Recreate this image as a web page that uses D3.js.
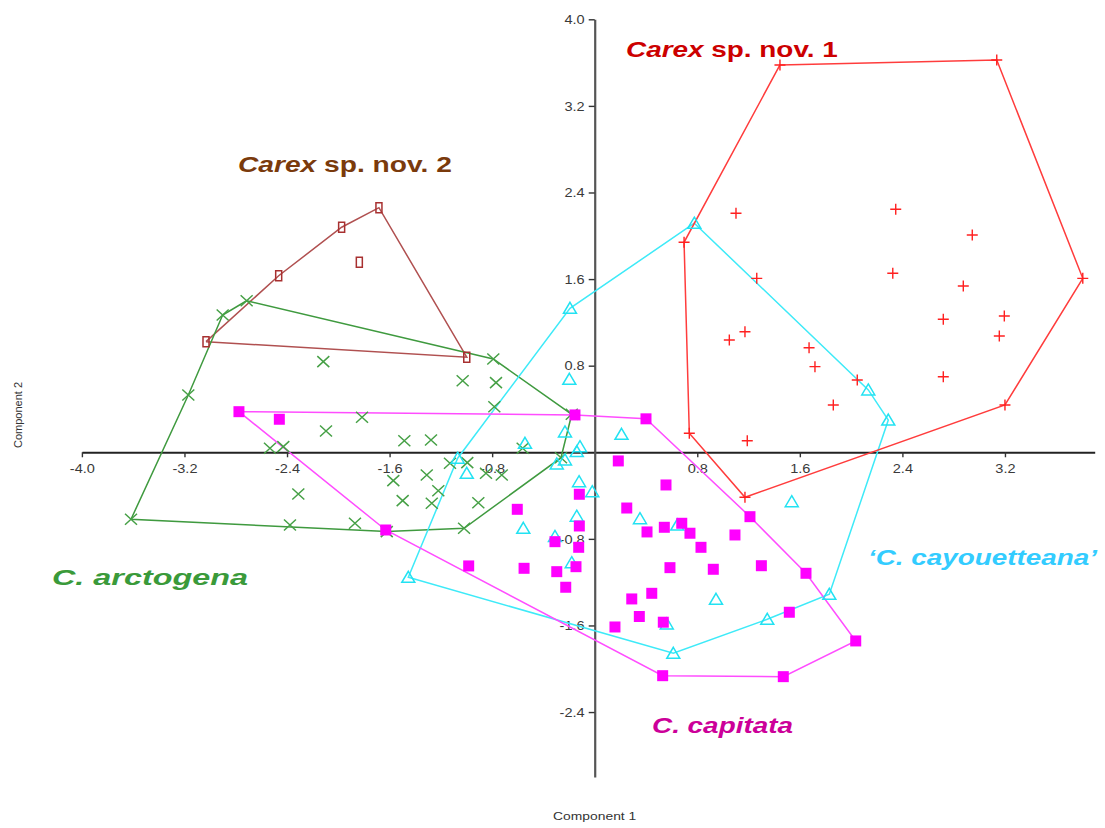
<!DOCTYPE html>
<html>
<head>
<meta charset="utf-8">
<script src="https://cdn.jsdelivr.net/npm/d3@7"></script>
<style>
  html, body { margin: 0; padding: 0; background: #fff; }
  svg { display: block; }
  text { font-family: Arial, "Liberation Sans", sans-serif; }
</style>
</head>
<body>
<svg id="chart" width="1105" height="828"></svg>
<script>
// Axis ticks
const xTicks = [-4.0, -3.2, -2.4, -1.6, -0.8, 0.8, 1.6, 2.4, 3.2];
const yTicks = [4.0, 3.2, 2.4, 1.6, 0.8, -0.8, -1.6, -2.4];

// Carex sp. nov. 1 — hull vertices (in order) and remaining scores
const nov1Hull = [[1.445,3.578],[3.136,3.624],[3.807,1.607],[3.200,0.437],[1.172,-0.416],[0.738,0.176],[0.697,1.940]];
const nov1Inner = [[1.102,2.208],[2.348,2.245],[2.945,2.007],[1.264,1.607],[2.325,1.654],[2.875,1.536],
  [2.719,1.229],[3.195,1.259],[3.156,1.074],[1.050,1.037],[1.172,1.114],[1.672,0.966],[1.718,0.791],
  [2.048,0.668],[2.719,0.698],[1.861,0.437],[1.190,0.107]];

// Carex sp. nov. 2
const nov2Hull = [[-3.032,1.022],[-2.465,1.631],[-1.974,2.079],[-1.683,2.260],[-0.998,0.878]];
const nov2Inner = [[-1.836,1.755]];

// C. arctogena
const arctHull = [[-2.715,1.400],[-0.791,0.862],[-0.179,0.351],[-0.263,-0.050],[-1.019,-0.702],
  [-1.622,-0.733],[-3.617,-0.619],[-3.170,0.529],[-2.902,1.268]];
const arctInner = [[-2.117,0.837],[-1.030,0.661],[-0.770,0.643],[-0.783,0.421],[-1.485,0.107],[-1.277,0.114],
  [-0.562,0.037],[-1.815,0.323],[-2.096,0.197],[-2.533,0.037],[-2.429,0.052],[-2.312,-0.385],[-2.377,-0.672],
  [-1.870,-0.656],[-1.129,-0.102],[-0.994,-0.096],[-0.848,-0.194],[-0.725,-0.210],[-1.310,-0.210],
  [-1.571,-0.262],[-1.220,-0.355],[-1.271,-0.471],[-1.498,-0.447],[-0.908,-0.466]];

// 'C. cayouetteana'
const cayHull = [[0.777,2.116],[2.134,0.576],[2.290,0.298],[1.830,-1.312],[1.346,-1.543],[0.613,-1.857],
  [-1.454,-1.155],[-1.069,-0.055],[-0.193,1.330]];
const cayInner = [[-0.198,0.674],[-0.232,0.188],[-0.115,0.052],[-0.544,0.083],[-0.140,0.006],[0.209,0.166],
  [-0.998,-0.194],[-0.296,-0.108],[-0.232,-0.071],[-0.122,-0.272],[-0.019,-0.364],[-0.140,-0.591],
  [-0.557,-0.702],[-0.310,-0.778],[-0.179,-1.020],[0.353,-0.614],[0.644,-0.672],[1.537,-0.456],
  [0.946,-1.358],[0.562,-1.586]];

// C. capitata
const capHull = [[-2.775,0.375],[-0.154,0.345],[0.400,0.309],[1.211,-0.595],[1.648,-1.118],[2.036,-1.743],
  [1.471,-2.073],[0.530,-2.064],[-1.630,-0.718]];
const capInner = [[-2.460,0.305],[-0.604,-0.527],[-0.983,-1.050],[-0.551,-1.072],[-0.296,-1.103],[-0.226,-1.247],
  [-0.310,-0.826],[-0.120,-0.388],[-0.120,-0.681],[-0.125,-0.878],[-0.146,-1.057],[0.158,-1.614],[0.184,-0.080],
  [0.250,-0.515],[0.408,-0.736],[0.289,-1.355],[0.445,-1.303],[0.348,-1.517],[0.556,-0.302],[0.543,-0.693],
  [0.679,-0.656],[0.743,-0.748],[0.829,-0.878],[1.094,-0.764],[0.587,-1.066],[0.925,-1.081],[1.300,-1.048],
  [0.535,-1.570],[1.518,-1.478]];

const svg = d3.select("#chart");
const x = d3.scaleLinear().domain([-4, 3.9]).range([81.9, 1094.7]);
const y = d3.scaleLinear().domain([4, -3]).range([19.3, 777]);

// Axes crossing at the origin
const fmt = d => d.toFixed(1);
const gx = svg.append("g").attr("transform", `translate(0,${y(0)})`)
  .call(d3.axisBottom(x).tickValues(xTicks).tickFormat(fmt).tickSize(5).tickSizeOuter(0).tickPadding(7));
const gy = svg.append("g").attr("transform", `translate(${x(0)},0)`)
  .call(d3.axisLeft(y).tickValues(yTicks).tickFormat(fmt).tickSize(6).tickSizeOuter(0).tickPadding(3));
gx.select(".domain").attr("stroke", "#222").attr("stroke-width", 1.8);
gy.select(".domain").attr("stroke", "#555").attr("stroke-width", 2.2);
[gx, gy].forEach(g => {
  g.selectAll(".tick line").attr("stroke", "#333").attr("stroke-width", 1.4);
  g.selectAll(".tick text").attr("fill", "#3a3a3a").style("font-size", "13px")
    .attr("transform", "scale(1.12,1)");
});

// Axis titles
svg.append("text").attr("x", x(0) / 1.26).attr("y", 820).attr("text-anchor", "middle")
  .attr("fill", "#333").style("font-size", "11px").attr("transform", "scale(1.26,1)")
  .text("Component 1");
svg.append("text").attr("transform", "translate(22,415) rotate(-90)").attr("text-anchor", "middle")
  .attr("fill", "#333").style("font-size", "11px").text("Component 2");

const line = d3.line().x(d => x(d[0])).y(d => y(d[1]));

const groups = [
  { hull: nov2Hull, inner: nov2Inner, line: "#b05050", mark: "#a83030", shape: "rect" },
  { hull: arctHull, inner: arctInner, line: "#3f9a3f", mark: "#46a046", shape: "cross" },
  { hull: cayHull,  inner: cayInner,  line: "#3eeaf8", mark: "#22e2f2", shape: "tri" },
  { hull: capHull,  inner: capInner,  line: "#ff4dff", mark: "#ff00ff", shape: "square" },
  { hull: nov1Hull, inner: nov1Inner, line: "#ff3c3c", mark: "#ff2020", shape: "plus" }
];

// Convex hull outlines
groups.forEach(g => {
  svg.append("path").datum(g.hull.concat([g.hull[0]]))
    .attr("d", line).attr("fill", "none").attr("stroke", g.line).attr("stroke-width", 1.5);
});

const shapes = {
  plus:  "M-5.5,0H5.5M0,-5.5V5.5",
  cross: "M-6,-5.5L6,5.5M-6,5.5L6,-5.5",
  tri:   "M0,-6L6.5,5L-6.5,5Z",
  rect:  "M-3,-5H3V5H-3Z",
  square:"M-5.5,-5.5H5.5V5.5H-5.5Z"
};

// Score markers
groups.forEach(g => {
  svg.append("g").selectAll("path").data(g.hull.concat(g.inner)).join("path")
    .attr("transform", d => `translate(${x(d[0])},${y(d[1])})`)
    .attr("d", shapes[g.shape])
    .attr("fill", g.shape === "square" ? g.mark : "none")
    .attr("stroke", g.shape === "square" ? "none" : g.mark)
    .attr("stroke-width", g.shape === "plus" ? 1.4 : 1.5);
});

// Species labels
const labels = [
  { parts: [["Carex", true], [" sp. nov. 1", false]], x: 626, y: 57, w: 212, color: "#cc0000" },
  { parts: [["Carex", true], [" sp. nov. 2", false]], x: 238, y: 172, w: 214, color: "#7a3a0c" },
  { parts: [["C. arctogena", true]], x: 52, y: 585, w: 196, color: "#3a9a3a" },
  { parts: [["\u2018C. cayouetteana\u2019", true]], x: 868, y: 565, w: 229, color: "#33ccff" },
  { parts: [["C. capitata", true]], x: 652, y: 733, w: 141, color: "#cc0099" }
];
labels.forEach(l => {
  const t = svg.append("text").attr("fill", l.color).style("font-size", "22px").style("font-weight", "bold");
  l.parts.forEach(p => t.append("tspan").style("font-style", p[1] ? "italic" : "normal").text(p[0]));
  const bw = t.node().getComputedTextLength();
  t.attr("transform", `translate(${l.x},${l.y}) scale(${l.w / bw},1)`);
});
</script>
</body>
</html>
